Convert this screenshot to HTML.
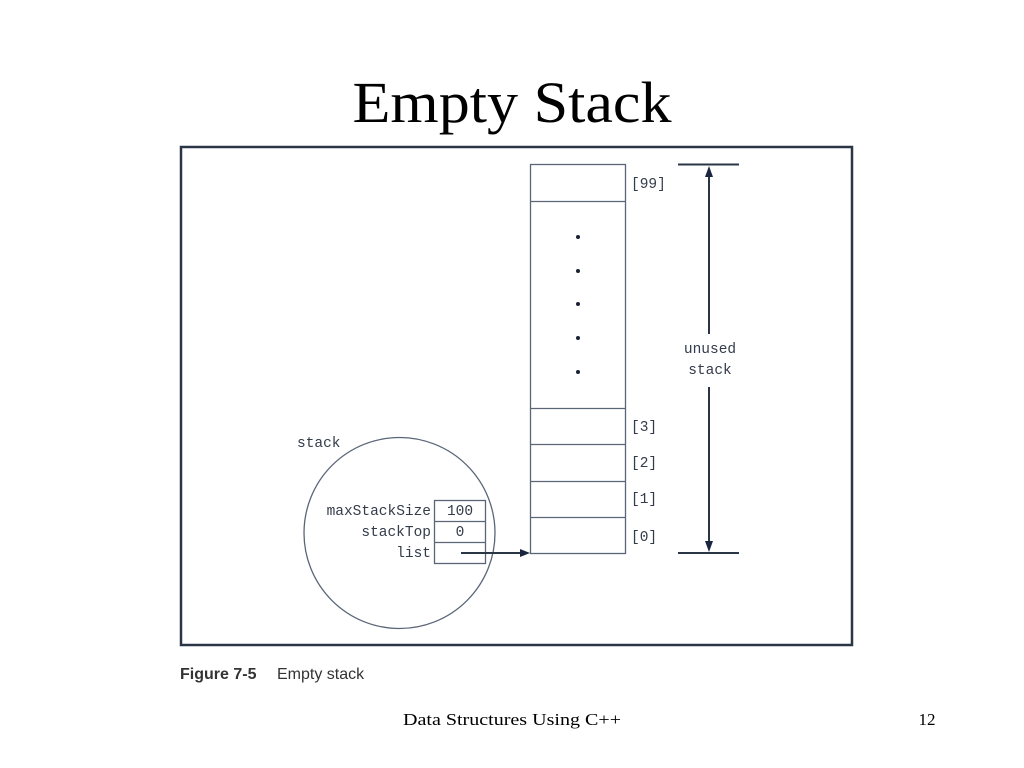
<!DOCTYPE html>
<html><head><meta charset="utf-8"><style>
html,body{margin:0;padding:0;background:#fff;width:1024px;height:768px;overflow:hidden}
</style></head><body>
<svg width="1024" height="768" viewBox="0 0 1024 768" xmlns="http://www.w3.org/2000/svg">
<rect width="1024" height="768" fill="#fff"/>
<text x="512" y="122" text-anchor="middle" font-family="Liberation Serif, serif" font-size="58" textLength="319" lengthAdjust="spacingAndGlyphs" fill="#000">Empty Stack</text>
<rect x="181" y="147" width="671" height="498" fill="none" stroke="#2a3545" stroke-width="2.5"/>
<g stroke="#5a6678" stroke-width="1.3" fill="none">
<rect x="530.5" y="164.5" width="95" height="389"/>
<line x1="530" y1="201.5" x2="626" y2="201.5"/>
<line x1="530" y1="408.5" x2="626" y2="408.5"/>
<line x1="530" y1="444.5" x2="626" y2="444.5"/>
<line x1="530" y1="481.5" x2="626" y2="481.5"/>
<line x1="530" y1="517.5" x2="626" y2="517.5"/>
<circle cx="399.5" cy="533" r="95.5"/>
<rect x="434.5" y="500.5" width="51" height="63"/>
<line x1="434" y1="521.5" x2="486" y2="521.5"/>
<line x1="434" y1="542.5" x2="486" y2="542.5"/>
</g>
<g fill="#1a2233">
<circle cx="578" cy="237" r="2"/><circle cx="578" cy="271" r="2"/><circle cx="578" cy="304" r="2"/><circle cx="578" cy="338" r="2"/><circle cx="578" cy="372" r="2"/>
</g>
<g font-family="Liberation Mono, monospace" font-size="14.5" fill="#333c4a">
<text x="631" y="188">[99]</text>
<text x="631" y="431">[3]</text>
<text x="631" y="467">[2]</text>
<text x="631" y="503">[1]</text>
<text x="631" y="541">[0]</text>
<text x="710" y="353" text-anchor="middle">unused</text>
<text x="710" y="374" text-anchor="middle">stack</text>
<text x="297" y="447">stack</text>
<text x="431" y="515" text-anchor="end">maxStackSize</text>
<text x="431" y="536" text-anchor="end">stackTop</text>
<text x="431" y="557" text-anchor="end">list</text>
<text x="460" y="515" text-anchor="middle">100</text>
<text x="460" y="536" text-anchor="middle">0</text>
</g>
<g stroke="#2a3545" stroke-width="2" fill="none">
<line x1="678" y1="164.5" x2="739" y2="164.5"/>
<line x1="678" y1="553" x2="739" y2="553"/>
<line x1="709" y1="172" x2="709" y2="334"/>
<line x1="709" y1="387" x2="709" y2="546"/>
<line x1="461" y1="553" x2="523" y2="553"/>
</g>
<g fill="#1a2540">
<polygon points="709,166 705,177 713,177"/>
<polygon points="709,552 705,541 713,541"/>
<polygon points="530,553 520,549 520,557"/>
</g>
<text x="180" y="679" font-family="Liberation Sans, sans-serif" font-size="16" font-weight="bold" fill="#333">Figure 7-5</text>
<text x="277" y="679" font-family="Liberation Sans, sans-serif" font-size="16" fill="#333">Empty stack</text>
<text x="512" y="725" text-anchor="middle" font-family="Liberation Serif, serif" font-size="17" textLength="218" lengthAdjust="spacingAndGlyphs" fill="#000">Data Structures Using C++</text>
<text x="927" y="725" text-anchor="middle" font-family="Liberation Serif, serif" font-size="17" fill="#000">12</text>
</svg>
</body></html>
